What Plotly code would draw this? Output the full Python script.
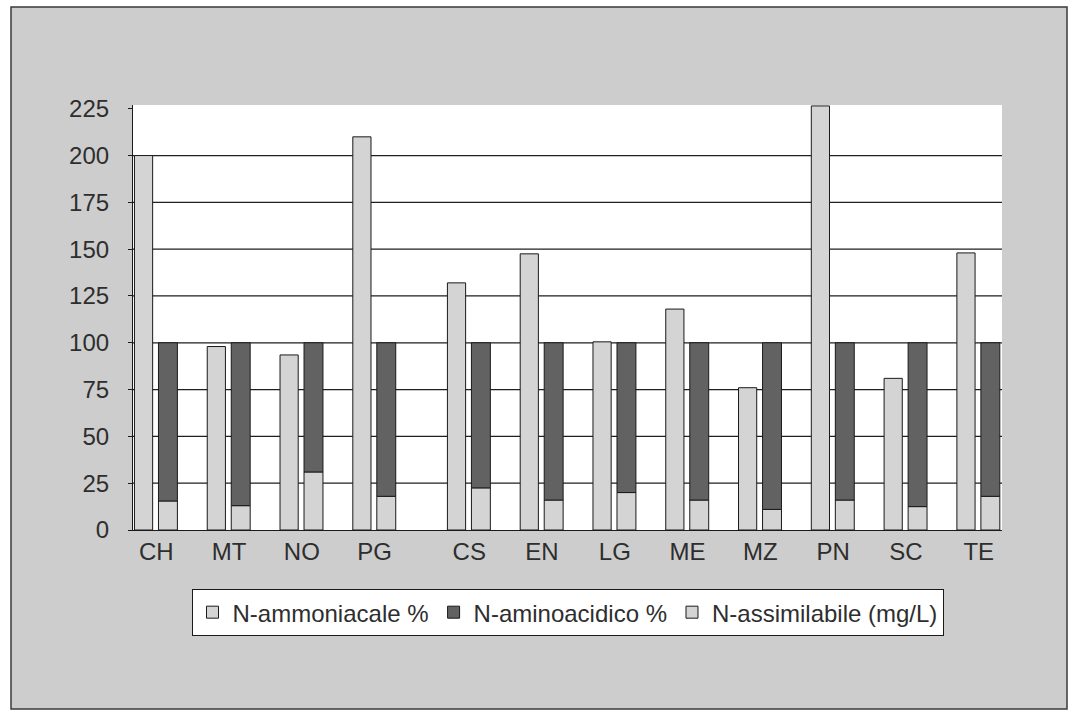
import numpy as np
import plotly.graph_objects as go

# Wine samples
categories = ["CH", "MT", "NO", "PG", "CS", "EN", "LG", "ME", "MZ", "PN", "SC", "TE"]

# Assimilable nitrogen (mg/L)
n_assimilabile = [200, 98, 93.5, 210, 132, 147.5, 100.5, 118, 76, 226.5, 81, 148]
# Share of ammonia nitrogen and amino-acid nitrogen (%)
n_ammoniacale = [15.5, 13, 31, 18, 22.5, 16, 20, 16, 11, 16, 12.5, 18]
n_aminoacidico = [84.5, 87, 69, 82, 77.5, 84, 80, 84, 89, 84, 87.5, 82]

y_ticks = [0, 25, 50, 75, 100, 125, 150, 175, 200, 225]

LIGHT = "#d4d4d4"
DARK = "#626262"
FRAME = "#cdcdcd"
TEXT = "#2e2e2e"
FONT = "Liberation Sans, Arial, sans-serif"

# first four samples form their own block, the rest sit a little further right
idx = np.arange(len(categories))
pos = idx + np.where(idx >= 4, 0.3, 0.0)

outline = dict(color="#1a1a1a", width=1)

fig = go.Figure()
fig.add_trace(go.Bar(
    x=pos, y=n_ammoniacale, base=0, width=0.26, offset=0.03,
    name="N-ammoniacale %", marker=dict(color=LIGHT, line=outline),
))
fig.add_trace(go.Bar(
    x=pos, y=n_aminoacidico, base=n_ammoniacale, width=0.26, offset=0.03,
    name="N-aminoacidico %", marker=dict(color=DARK, line=outline),
))
fig.add_trace(go.Bar(
    x=pos, y=n_assimilabile, base=0, width=0.25, offset=-0.30,
    name="N-assimilabile (mg/L)", marker=dict(color=LIGHT, line=outline),
))

# grey chart frame with a hole where the white plotting area shows through
fx0, fx1, fy0, fy1 = -0.1404, 1.0748, -0.4212, 1.2306
frame_path = (
    f"M{fx0},{fy0} L{fx1},{fy0} L{fx1},{fy1} L{fx0},{fy1} Z "
    "M0,0 L1,0 L1,1 L0,1 Z"
)
shapes = [
    dict(type="path", xref="paper", yref="paper", path=frame_path,
         fillcolor=FRAME, fillrule="evenodd", line=dict(width=0), layer="below"),
    dict(type="rect", xref="paper", yref="paper",
         x0=fx0, x1=fx1, y0=fy0, y1=fy1,
         line=dict(color="#3a3a3a", width=1.5), layer="below"),
]
# gridlines behind the bars (none at the top)
shapes += [
    dict(type="line", xref="paper", yref="y", x0=0, x1=1, y0=v, y1=v,
         line=dict(color="#1f1f1f", width=1.2), layer="between")
    for v in y_ticks[1:-1]
]

fig.update_layout(
    width=1075, height=715,
    margin=dict(l=133, r=73, t=105, b=185),
    paper_bgcolor="white", plot_bgcolor="white",
    barmode="overlay",
    font=dict(family=FONT, color=TEXT, size=24),
    shapes=shapes,
    showlegend=True,
    legend=dict(
        orientation="h", x=0.5, xanchor="center", y=-0.139, yanchor="top",
        bgcolor="white", bordercolor="#1a1a1a", borderwidth=1,
        font=dict(size=24, color=TEXT), traceorder="normal",
        itemwidth=30,
    ),
    xaxis=dict(
        range=[-0.32, 11.62], tickmode="array", tickvals=pos, ticktext=categories,
        showgrid=False, zeroline=False, showline=True, linecolor="#1a1a1a",
        linewidth=1.2, ticks="", tickfont=dict(size=24, color=TEXT),
        fixedrange=True,
    ),
    yaxis=dict(
        range=[0, 227], tickmode="array", tickvals=y_ticks,
        showgrid=False, zeroline=False, showline=True, linecolor="#1a1a1a",
        linewidth=1.2, ticks="outside", ticklen=4, tickcolor="#1a1a1a",
        ticklabelstandoff=14, tickfont=dict(size=24, color=TEXT),
        fixedrange=True,
    ),
)

fig.write_html("out.html")
